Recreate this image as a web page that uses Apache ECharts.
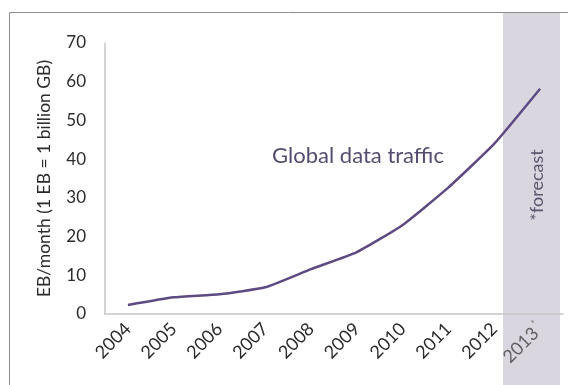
<!DOCTYPE html>
<html>
<head>
<meta charset="utf-8">
<script src="https://cdn.jsdelivr.net/npm/echarts@6/dist/echarts.min.js"></script>
<style>
  html, body { margin: 0; padding: 0; background: #fff; }
  #chart { width: 568px; height: 385px; }
</style>
</head>
<body>
<div id="chart"></div>
<script>
// Yearly categories; the last one is a forecast year
var years = ['2004', '2005', '2006', '2007', '2008', '2009', '2010', '2011', '2012', '2013'];
// Global data traffic, EB per month
var traffic = [2.3, 4.3, 5.1, 6.9, 11.6, 16.0, 23.0, 32.7, 44.0, 58.2];
// Value axis ticks
var yTicks = [0, 10, 20, 30, 40, 50, 60, 70];
var forecastYear = '2013';

var FONT = 'Lato, "Open Sans", sans-serif';
var chart = echarts.init(document.getElementById('chart'), null, { renderer: 'canvas' });

chart.setOption({
  animation: false,
  backgroundColor: '#ffffff',
  grid: { left: 105, top: 43, right: 5, bottom: 71, containLabel: false },
  xAxis: {
    type: 'category',
    data: years,
    boundaryGap: true,
    axisLine: { lineStyle: { color: '#c6c6c6', width: 1.5 } },
    axisTick: { show: false },
    axisLabel: {
      rotate: 45,
      margin: 12,
      fontFamily: FONT,
      fontSize: 18,
      color: '#2b2b2b',
      formatter: function (v) {
        return v === forecastYear ? '{f|' + v + '}{s|*}' : v;
      },
      rich: {
        f: { fontFamily: FONT, fontSize: 18, color: '#5f5f5f' },
        s: { fontFamily: FONT, fontSize: 10, color: '#7f7f7f', verticalAlign: 'top', padding: [0, 0, 12, 2] }
      }
    }
  },
  yAxis: {
    type: 'value',
    min: yTicks[0],
    max: yTicks[yTicks.length - 1],
    interval: yTicks[1] - yTicks[0],
    name: 'EB/month (1 EB = 1 billion GB)',
    nameLocation: 'middle',
    nameGap: 52,
    nameMoveOverlap: false,
    nameTextStyle: { fontFamily: FONT, fontSize: 17.5, color: '#2b2b2b' },
    axisLine: { show: true, lineStyle: { color: '#c6c6c6', width: 1.5 } },
    axisTick: { show: false },
    splitLine: { show: false },
    axisLabel: { margin: 19, fontFamily: FONT, fontSize: 17, color: '#2b2b2b' }
  },
  graphic: [
    // outer frame (top and left edges)
    {
      type: 'polyline', z: 1, silent: true,
      shape: { points: [[9.5, 385], [9.5, 12.5], [568, 12.5]] },
      style: { stroke: '#8c8c8c', lineWidth: 1, fill: null }
    },
    // forecast band
    {
      type: 'rect', z: -10, silent: true,
      shape: { x: 503, y: 13, width: 57, height: 372 },
      style: { fill: '#d9d6df' }
    },
    {
      type: 'text', z: 5, silent: true,
      x: 537, y: 185, rotation: Math.PI / 2,
      style: {
        text: '*forecast', fontFamily: FONT, fontSize: 18, fill: '#5d566e',
        align: 'center', verticalAlign: 'middle'
      }
    },
    {
      type: 'text', z: 5, silent: true,
      x: 358, y: 156,
      style: {
        text: 'Global data traffic', fontFamily: FONT, fontSize: 22, fill: '#564b70',
        align: 'center', verticalAlign: 'middle'
      }
    }
  ],
  series: [{
    type: 'line',
    data: traffic,
    smooth: 0.15,
    symbol: 'none',
    lineStyle: { color: '#5e4a82', width: 2.5 },
    z: 3
  }]
});
</script>
</body>
</html>
